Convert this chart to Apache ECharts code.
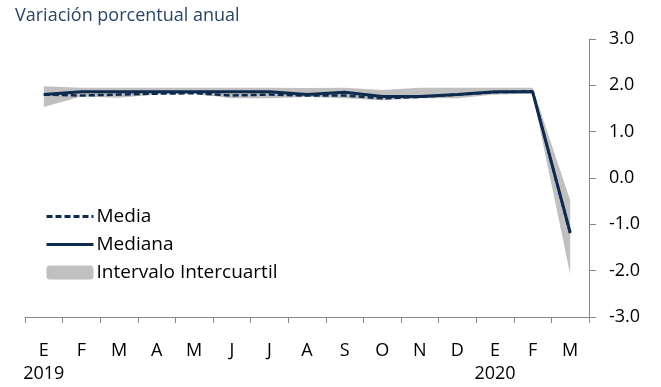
<!DOCTYPE html>
<html><head><meta charset="utf-8">
<script src="https://cdn.jsdelivr.net/npm/echarts@6/dist/echarts.min.js"></script>
<style>html,body{margin:0;padding:0;background:#fff}#c{width:661px;height:387px}</style>
</head><body><div id="c"></div>
<script>
var months = ['E','F','M','A','M','J','J','A','S','O','N','D','E','F','M'];
var years = ['2019','','','','','','','','','','','','2020','',''];
var media   = [1.80,1.78,1.80,1.82,1.83,1.78,1.80,1.78,1.78,1.72,1.75,1.80,1.85,1.87,-1.20];
var mediana = [1.80,1.86,1.86,1.86,1.86,1.86,1.86,1.80,1.85,1.76,1.76,1.80,1.86,1.86,-1.18];
var q1 = [1.53,1.76,1.73,1.80,1.82,1.72,1.72,1.75,1.72,1.68,1.72,1.72,1.80,1.82,-2.08];
var q3 = [1.98,1.95,1.95,1.95,1.95,1.95,1.95,1.94,1.95,1.90,1.95,1.95,1.95,1.95,-0.48];

var diff = q3.map(function(v,i){return +(v - q1[i]).toFixed(3);});
var cats = months.map(function(m,i){return years[i] ? m + '\n' + years[i] : m;});
var navy = '#0e2a4e';
var chart = echarts.init(document.getElementById('c'), null, {renderer:'canvas'});
chart.setOption({
  animation:false,
  title:{text:'Variación porcentual anual', left:10, top:2,
    textStyle:{fontFamily:'Open Sans', fontSize:18, fontWeight:'normal', color:'#2a4566'}},
  grid:{left:25, right:72, top:39, bottom:70},
  legend:{orient:'vertical', left:40, top:202, itemGap:9, itemWidth:47, itemHeight:14,
    textStyle:{fontFamily:'Open Sans', fontSize:19, color:'#000', padding:[0,0,0,-2]},
    data:[{name:'Media', itemStyle:{opacity:0}, lineStyle:{width:3, type:[6,3]}},
          {name:'Mediana', itemStyle:{opacity:0}, lineStyle:{width:3}},
          {name:'Intervalo Intercuartil', icon:'roundRect', itemStyle:{color:'#c0c0c0'}}]},
  xAxis:{type:'category', data:cats, boundaryGap:true,
    axisLine:{onZero:false, lineStyle:{color:'#868686', width:1}},
    axisTick:{show:true, interval:0, length:6, lineStyle:{color:'#868686'}},
    axisLabel:{interval:0, margin:22, fontFamily:'Open Sans', fontSize:18, color:'#000', lineHeight:23}},
  yAxis:{type:'value', position:'right', min:-3, max:3, interval:1,
    axisLine:{show:true, lineStyle:{color:'#868686'}},
    axisTick:{show:true, length:7, lineStyle:{color:'#868686'}},
    splitLine:{show:false},
    axisLabel:{margin:20, fontFamily:'Open Sans', fontSize:18, color:'#000',
      formatter:function(v){return v.toFixed(1);}}},
  series:[
    {name:'_low', type:'line', stack:'band', stackStrategy:'all', data:q1, symbol:'none', lineStyle:{width:0}, silent:true},
    {name:'Intervalo Intercuartil', type:'line', stack:'band', stackStrategy:'all', data:diff, symbol:'none',
      lineStyle:{width:0}, areaStyle:{color:'#c0c0c0', opacity:1}, itemStyle:{color:'#c0c0c0'}},
    {name:'Mediana', type:'line', data:mediana, symbol:'none', lineStyle:{color:navy, width:3}, itemStyle:{color:navy}},
    {name:'Media', type:'line', data:media, symbol:'none', lineStyle:{color:navy, width:2.5, type:[6,3]}, itemStyle:{color:navy}}
  ]
});
</script></body></html>
